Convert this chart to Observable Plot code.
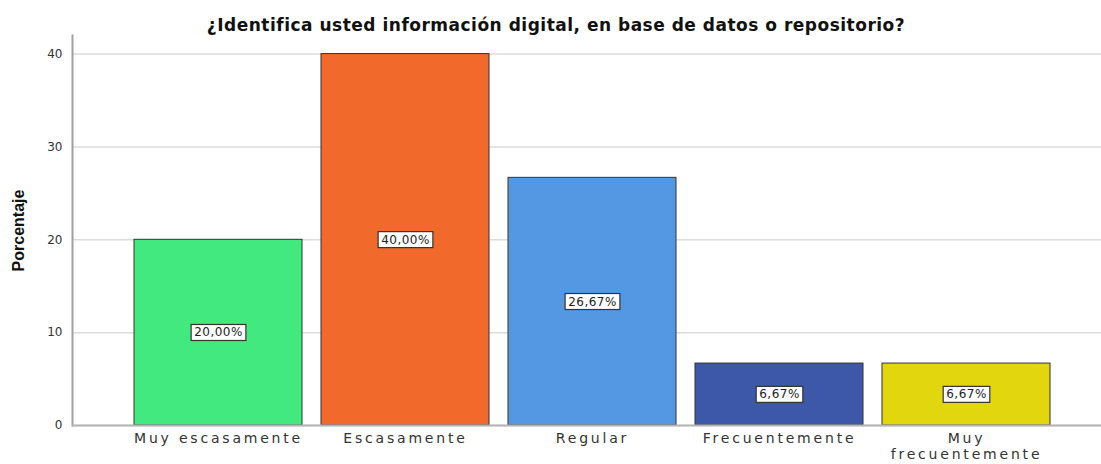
<!DOCTYPE html>
<html>
<head>
<meta charset="utf-8">
<script src="https://cdn.jsdelivr.net/npm/d3@7"></script>
<script src="https://cdn.jsdelivr.net/npm/@observablehq/plot@0.6"></script>
<style>
  html, body { margin: 0; padding: 0; background: #fff; }
  svg { display: block; }
</style>
</head>
<body>
<div id="chart"></div>
<script>
const title = "¿Identifica usted información digital, en base de datos o repositorio?";
const yLabel = "Porcentaje";
const categories = ["Muy escasamente", "Escasamente", "Regular", "Frecuentemente", "Muy frecuentemente"];
const values = [20.00, 40.00, 26.67, 6.67, 6.67];
const valueLabels = ["20,00%", "40,00%", "26,67%", "6,67%", "6,67%"];
const colors = ["#41e97e", "#f2692c", "#5498e3", "#3d58a8", "#e2d60f"];
const yTicks = [0, 10, 20, 30, 40];

const data = categories.map((c, i) => ({cat: c, value: values[i], label: valueLabels[i]}));

const chart = Plot.plot({
  width: 1101,
  height: 464,
  marginLeft: 72,
  marginRight: 0,
  marginTop: 35,
  marginBottom: 39,
  style: {background: "#fff", fontFamily: "DejaVu Sans"},
  x: {domain: categories, paddingInner: 0.104, paddingOuter: 0.296, align: 0.55},
  y: {domain: [0, 42]},
  color: {domain: categories, range: colors},
  marks: [
    Plot.gridY(yTicks, {stroke: "#dcdcdc", strokeOpacity: 1, strokeWidth: 1.5}),
    Plot.axisY(yTicks, {tickSize: 0, tickPadding: 10, fontSize: 12, fill: "#333", label: null}),
    Plot.frame({anchor: "left", stroke: "#a0a0a0", strokeWidth: 2}),
    Plot.barY(data, {x: "cat", y: "value", fill: "cat", stroke: "#333", strokeWidth: 1}),
    Plot.ruleY([0], {stroke: "#b4b4b4", strokeWidth: 2}),
    Plot.axisX({tickSize: 0, tickPadding: 6, fontSize: 14, fill: "#333", lineWidth: 9, lineHeight: 1.15, label: null}),
    Plot.text(data, {x: "cat", y: d => d.value / 2, text: "label", fontSize: 12, fill: "#222", className: "bar-labels"}),
    Plot.text([title], {frameAnchor: "top", dx: -31, dy: -17, fontSize: 17, fontWeight: "bold", fill: "#111", className: "title-text"}),
    Plot.text([yLabel], {frameAnchor: "left", textAnchor: "middle", rotate: -90, dx: -54, fontSize: 16, fontWeight: "bold", fontFamily: "Liberation Sans", fill: "#111"})
  ]
});

document.getElementById("chart").append(chart);
d3.select(chart).selectAll("g.title-text text").style("letter-spacing", "0.5px");
d3.select(chart).selectAll("g[aria-label='x-axis tick label'] text").style("letter-spacing", "2.8px");
d3.select(chart).selectAll("g.bar-labels text").style("letter-spacing", "0.5px");

// Add white boxes with dark borders behind the bar value labels
d3.select(chart).selectAll("g.bar-labels text").each(function () {
  const bb = this.getBBox();
  const padX = 3, padY = 1;
  const rect = document.createElementNS("http://www.w3.org/2000/svg", "rect");
  rect.setAttribute("x", bb.x - padX);
  rect.setAttribute("y", bb.y - padY);
  rect.setAttribute("width", bb.width + 2 * padX);
  rect.setAttribute("height", bb.height + 2 * padY);
  rect.setAttribute("fill", "#fff");
  rect.setAttribute("stroke", "#333");
  rect.setAttribute("stroke-width", "1.2");
  const t = this.getAttribute("transform");
  if (t) rect.setAttribute("transform", t);
  this.parentNode.insertBefore(rect, this);
});
</script>
</body>
</html>
